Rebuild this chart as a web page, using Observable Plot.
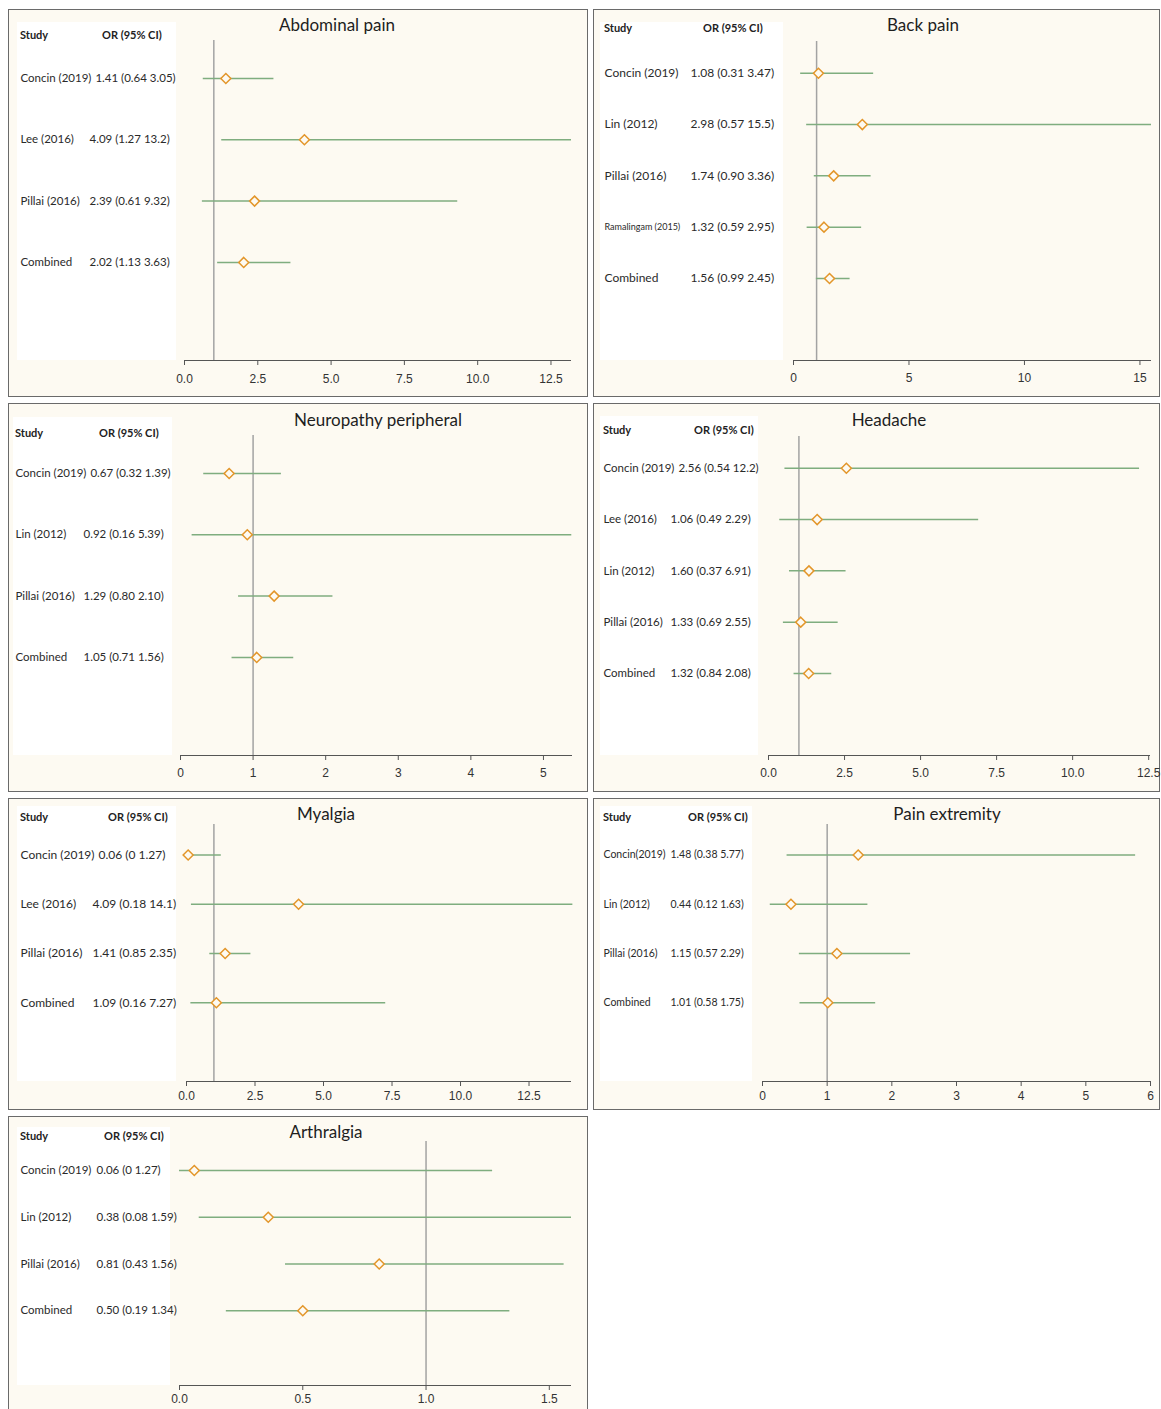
<!DOCTYPE html>
<html><head><meta charset="utf-8">
<script src="https://cdn.jsdelivr.net/npm/d3@7"></script>
<script src="https://cdn.jsdelivr.net/npm/@observablehq/plot@0.6"></script>
<style>
body{margin:0;background:#fff;}
#root{position:relative;width:1161px;height:1409px;overflow:hidden;background:#fff;}
.panel{position:absolute;background:#fdfaf2;border:1px solid #6a6a6a;box-sizing:border-box;}
.inner{position:absolute;left:-1px;top:-1px;}
.wbox{position:absolute;background:#fff;}
.title{position:absolute;font-family:Lato,sans-serif;font-size:17px;color:#1e1e1e;text-align:center;width:300px;line-height:20px;white-space:nowrap;}
.head{position:absolute;font-family:Lato,sans-serif;font-weight:bold;font-size:11px;color:#222;line-height:14px;white-space:nowrap;}
.inner svg{position:absolute;left:0;top:0;overflow:visible;}
</style></head><body><div id="root"></div>
<script>
// ---------- DATA ----------
// Abdominal pain
const abdStudies = ["Concin (2019)", "Lee (2016)", "Pillai (2016)", "Combined"];
const abdLabels  = ["1.41 (0.64 3.05)", "4.09 (1.27 13.2)", "2.39 (0.61 9.32)", "2.02 (1.13 3.63)"];
const abdOR = [1.41, 4.09, 2.39, 2.02];
const abdLo = [0.64, 1.27, 0.61, 1.13];
const abdHi = [3.05, 13.2, 9.32, 3.63];
// Back pain
const backStudies = ["Concin (2019)", "Lin (2012)", "Pillai (2016)", "Ramalingam (2015)", "Combined"];
const backLabels  = ["1.08 (0.31 3.47)", "2.98 (0.57 15.5)", "1.74 (0.90 3.36)", "1.32 (0.59 2.95)", "1.56 (0.99 2.45)"];
const backOR = [1.08, 2.98, 1.74, 1.32, 1.56];
const backLo = [0.31, 0.57, 0.90, 0.59, 0.99];
const backHi = [3.47, 15.5, 3.36, 2.95, 2.45];
// Neuropathy peripheral
const neuStudies = ["Concin (2019)", "Lin (2012)", "Pillai (2016)", "Combined"];
const neuLabels  = ["0.67 (0.32 1.39)", "0.92 (0.16 5.39)", "1.29 (0.80 2.10)", "1.05 (0.71 1.56)"];
const neuOR = [0.67, 0.92, 1.29, 1.05];
const neuLo = [0.32, 0.16, 0.80, 0.71];
const neuHi = [1.39, 5.39, 2.10, 1.56];
// Headache (plotted positions as drawn in the picture)
const headStudies = ["Concin (2019)", "Lee (2016)", "Lin (2012)", "Pillai (2016)", "Combined"];
const headLabels  = ["2.56 (0.54 12.2)", "1.06 (0.49 2.29)", "1.60 (0.37 6.91)", "1.33 (0.69 2.55)", "1.32 (0.84 2.08)"];
const headOR = [2.56, 1.60, 1.33, 1.06, 1.32];
const headLo = [0.54, 0.37, 0.69, 0.49, 0.84];
const headHi = [12.2, 6.91, 2.55, 2.29, 2.08];
// Myalgia
const myaStudies = ["Concin (2019)", "Lee (2016)", "Pillai (2016)", "Combined"];
const myaLabels  = ["0.06 (0 1.27)", "4.09 (0.18 14.1)", "1.41 (0.85 2.35)", "1.09 (0.16 7.27)"];
const myaOR = [0.06, 4.09, 1.41, 1.09];
const myaLo = [0.0, 0.18, 0.85, 0.16];
const myaHi = [1.27, 14.1, 2.35, 7.27];
// Pain extremity
const extStudies = ["Concin(2019)", "Lin (2012)", "Pillai (2016)", "Combined"];
const extLabels  = ["1.48 (0.38 5.77)", "0.44 (0.12 1.63)", "1.15 (0.57 2.29)", "1.01 (0.58 1.75)"];
const extOR = [1.48, 0.44, 1.15, 1.01];
const extLo = [0.38, 0.12, 0.57, 0.58];
const extHi = [5.77, 1.63, 2.29, 1.75];
// Arthralgia
const artStudies = ["Concin (2019)", "Lin (2012)", "Pillai (2016)", "Combined"];
const artLabels  = ["0.06 (0 1.27)", "0.38 (0.08 1.59)", "0.81 (0.43 1.56)", "0.50 (0.19 1.34)"];
const artOR = [0.06, 0.36, 0.81, 0.50];
const artLo = [0.0, 0.08, 0.43, 0.19];
const artHi = [1.27, 1.59, 1.56, 1.34];
// Tick values
const ticks125 = [0, 2.5, 5, 7.5, 10, 12.5];
const ticks15 = [0, 5, 10, 15];
const ticks5 = [0, 1, 2, 3, 4, 5];
const ticks6 = [0, 1, 2, 3, 4, 5, 6];
const ticks15d = [0, 0.5, 1, 1.5];

// ---------- LAYOUT ----------
const layout = [
  {title:"Abdominal pain", d:[abdStudies,abdLabels,abdOR,abdLo,abdHi], left:8, top:9, w:580, h:388, ml:176, mr:17, mt:31, mb:37, box:[9,13,159,338], tx:329, ty:16, headY:26, studyX:12, orHeadX:94, orX:81, fs:11.5, xmax:13.2, ticks:ticks125, fmt:".1f", tp:9},
  {title:"Back pain", d:[backStudies,backLabels,backOR,backLo,backHi], left:593, top:9, w:567, h:388, ml:200, mr:9, mt:32, mb:37, box:[7,13,183,338], tx:330, ty:16, headY:19, studyX:11, orHeadX:110, orX:97, fs:12, xmax:15.5, ticks:ticks15, fmt:"d", tp:8},
  {title:"Neuropathy peripheral", d:[neuStudies,neuLabels,neuOR,neuLo,neuHi], left:8, top:403, w:580, h:389, ml:172, mr:16, mt:32, mb:37, box:[5,14,159,338], tx:370, ty:17, headY:30, studyX:7, orHeadX:91, orX:75, fs:11.5, xmax:5.4, ticks:ticks5, fmt:"d", tp:8},
  {title:"Headache", d:[headStudies,headLabels,headOR,headLo,headHi], left:593, top:403, w:567, h:389, ml:175, mr:10, mt:33, mb:37, box:[7,13,158,339], tx:296, ty:17, headY:27, studyX:10, orHeadX:101, orX:77, fs:11.5, xmax:12.56, ticks:ticks125, fmt:".1f", tp:8},
  {title:"Myalgia", d:[myaStudies,myaLabels,myaOR,myaLo,myaHi], left:8, top:798, w:580, h:312, ml:178, mr:17, mt:26, mb:29, box:[9,8,159,275], tx:318, ty:16, headY:19, studyX:12, orHeadX:100, orX:84, fs:12, xmax:14.05, ticks:ticks125, fmt:".1f", tp:5},
  {title:"Pain extremity", d:[extStudies,extLabels,extOR,extLo,extHi], left:593, top:798, w:567, h:312, ml:169, mr:10, mt:26, mb:29, box:[7,8,152,275], tx:354, ty:16, headY:19, studyX:10, orHeadX:95, orX:77, fs:10.5, xmax:6, ticks:ticks6, fmt:"d", tp:5},
  {title:"Arthralgia", d:[artStudies,artLabels,artOR,artLo,artHi], left:8, top:1116, w:580, h:300, ml:171, mr:17, mt:25, mb:31, box:[9,11,153,258], tx:318, ty:16, headY:20, studyX:12, orHeadX:96, orX:88, fs:11.5, xmax:1.59, ticks:ticks15d, fmt:".1f", tp:4}
];

const BG = "#fdfaf2", GREEN = "#7fad7f", ORANGE = "#e3962a", REF = "#a3a3a3", AXIS = "#555";
const canvas = document.createElement("canvas");
const ctx = canvas.getContext("2d");
function measure(t, fs) { ctx.font = `${fs}px Lato`; return ctx.measureText(t).width; }

const root = document.getElementById("root");
function el(cls, css, parent, text) {
  const e = document.createElement("div"); e.className = cls;
  Object.assign(e.style, css); if (text) e.textContent = text; parent.appendChild(e); return e;
}

for (const L of layout) {
  const [studies, labels, ors, los, his] = L.d;
  const n = studies.length;
  const rows = studies.map((s, i) => ({i, study: s, label: labels[i], or: ors[i], lo: los[i], hi: his[i],
    sfs: s.length > 14 ? 9 : L.fs}));
  const p = el("panel", {left: L.left+"px", top: L.top+"px", width: L.w+"px", height: L.h+"px"}, root);
  const inner = el("inner", {width: L.w+"px", height: L.h+"px"}, p);
  el("wbox", {left: L.box[0]+"px", top: L.box[1]+"px", width: L.box[2]+"px", height: L.box[3]+"px"}, inner);
  el("title", {left: (L.tx-150)+"px", top: (L.ty-10)+"px"}, inner, L.title);
  el("head", {left: L.studyX+"px", top: (L.headY-7)+"px"}, inner, "Study");
  el("head", {left: L.orHeadX+"px", top: (L.headY-7)+"px"}, inner, "OR (95% CI)");

  const yDom = [-0.62, n + 0.6];
  const textMarks = [];
  for (const r of rows) {
    const sw = measure(r.study, r.sfs);
    const ox = Math.max(L.orX, L.studyX + sw + 4);
    textMarks.push(Plot.text([r], {y: "i", text: "study", frameAnchor: "left", dx: L.studyX - L.ml, textAnchor: "start",
      fontSize: r.sfs, fontFamily: "Lato", fill: "#2a2a2a"}));
    textMarks.push(Plot.text([r], {y: "i", text: "label", frameAnchor: "left", dx: ox - L.ml, textAnchor: "start",
      fontSize: L.fs, fontFamily: "Lato", fill: "#2a2a2a"}));
  }

  const chart = Plot.plot({
    width: L.w, height: L.h,
    marginLeft: L.ml, marginRight: L.mr, marginTop: L.mt, marginBottom: L.mb,
    style: {background: "transparent", overflow: "visible"},
    x: {domain: [0, L.xmax], axis: null},
    y: {domain: yDom, reverse: true, axis: null},
    marks: [
      Plot.ruleX([1], {stroke: REF, strokeWidth: 1.5}),
      Plot.ruleY([yDom[1]], {stroke: AXIS, strokeWidth: 1.2}),
      Plot.axisX({ticks: L.ticks, tickFormat: d3.format(L.fmt), tickSize: 5, tickPadding: L.tp, stroke: AXIS,
        fill: "#333", fontSize: 12, fontFamily: "Liberation Sans", label: null}),
      Plot.ruleY(rows, {y: "i", x1: "lo", x2: "hi", stroke: GREEN, strokeWidth: 1.5}),
      Plot.dot(rows, {x: "or", y: "i", symbol: "diamond2", r: 4.5, stroke: ORANGE, strokeWidth: 1.5, fill: BG}),
      ...textMarks
    ]
  });
  inner.appendChild(chart);
}
</script></body></html>
